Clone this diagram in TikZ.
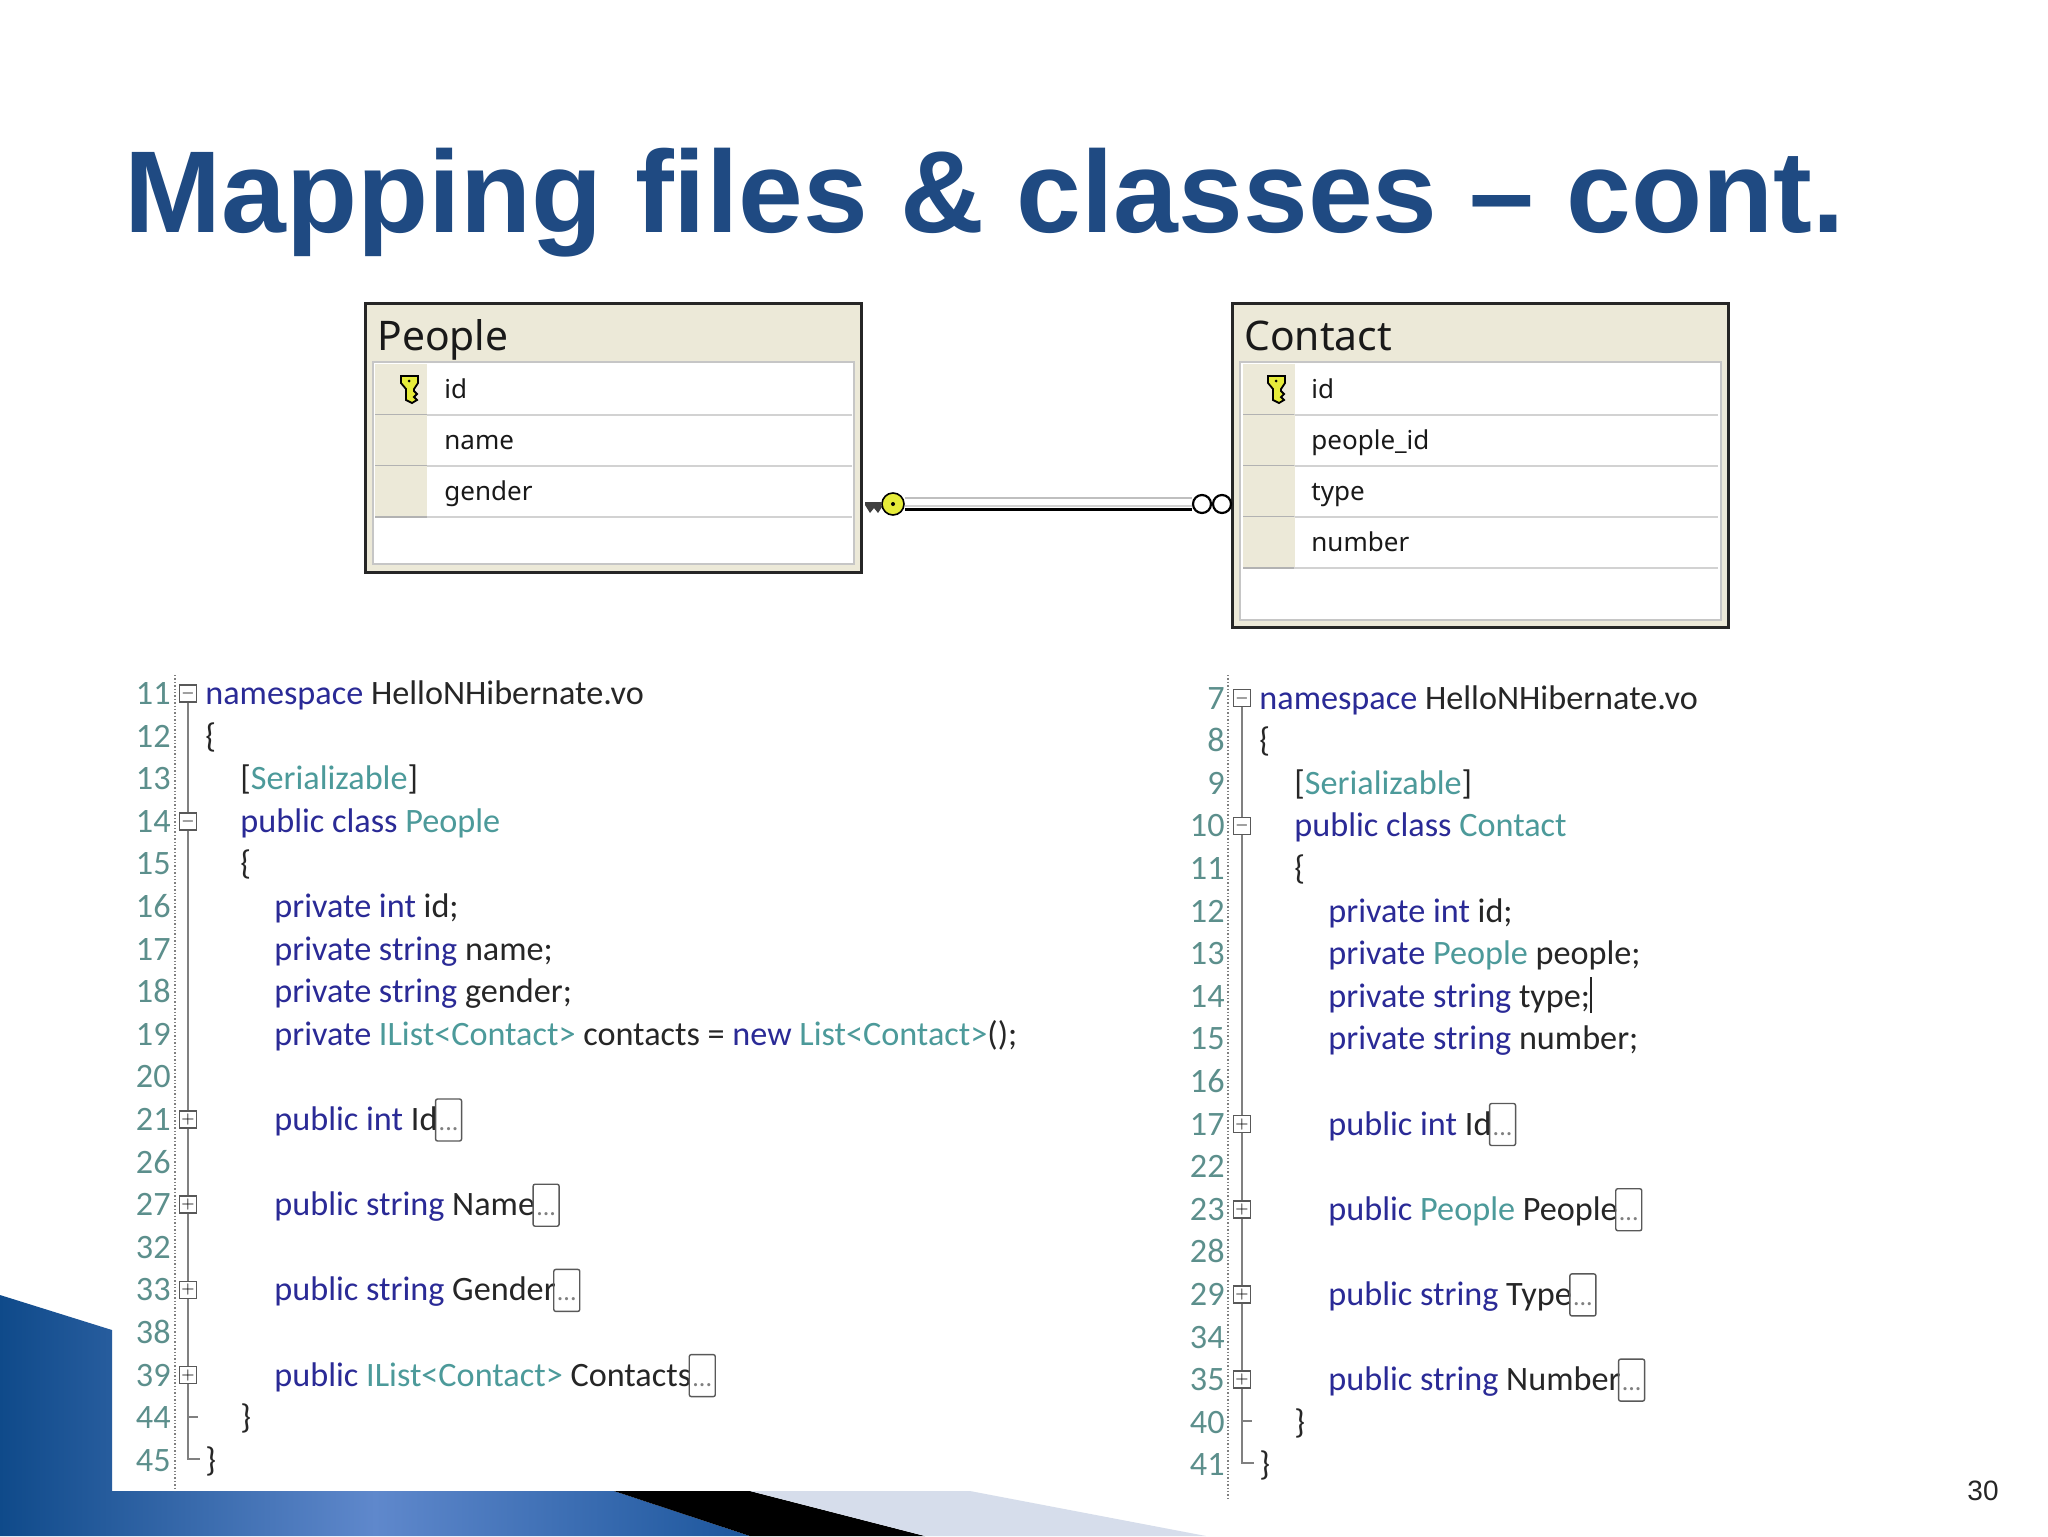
\documentclass[tikz,border=0pt]{standalone}
\usepackage{fontspec}
\setmainfont{Liberation Sans}
\newfontfamily\codefont{Carlito}
\newfontfamily\tablefont{Noto Sans}
\definecolor{titleblue}{HTML}{1F4A82}
\definecolor{kwblue}{HTML}{2A2A96}
\definecolor{tyteal}{HTML}{4C9A9A}
\definecolor{numteal}{HTML}{5C8F8C}
\definecolor{plaincode}{HTML}{262626}
\definecolor{headbeige}{HTML}{ECE9D8}
\definecolor{keyyellow}{HTML}{E6EC3A}
\definecolor{cornerdark}{HTML}{0F4A8A}
\definecolor{cornermid}{HTML}{5F88CC}
\definecolor{cornerend}{HTML}{1C569C}
\definecolor{cornerpale}{HTML}{D6DDEB}
\newcommand{\kw}[1]{\textcolor{kwblue}{#1}}
\newcommand{\ty}[1]{\textcolor{tyteal}{#1}}
\newcommand{\folded}{\smash{\raisebox{-5.25pt}{...}}}
\tikzset{
  codeline/.style={anchor=base west,inner sep=0pt,font=\codefont\fontsize{17.1}{17.1}\selectfont,text=plaincode},
  lineno/.style={anchor=base east,inner sep=0pt,font=\codefont\fontsize{17.1}{17.1}\selectfont,text=numteal},
  foldbox/.style={draw=black!65,fill=white,line width=0.8pt,minimum size=8.5pt,inner sep=0pt},
  dotsbox/.style={draw=black!65,fill=white,fill opacity=0,text opacity=1,line width=0.7pt,rounded corners=1pt,inner sep=0pt,anchor=west,
    minimum width=13pt,minimum height=21pt,font=\codefont\fontsize{13}{13}\selectfont,text=gray},
  guide/.style={draw=black!50,line width=0.8pt},
  gutter/.style={draw=black!50,line width=0.7pt,densely dotted},
  tablebox/.style={draw=black!85,fill=headbeige,line width=1.5pt,anchor=north west,inner sep=0pt,minimum width=248pt},
  tablebody/.style={draw=gray!45,fill=white,line width=1pt,anchor=north west,inner sep=0pt,minimum width=240.5pt},
  tabletitle/.style={anchor=base west,inner sep=0pt,font=\tablefont\fontsize{20.4}{20.4}\selectfont,text=black!90},
  rowtext/.style={anchor=base west,inner sep=0pt,font=\tablefont\fontsize{13}{13}\selectfont,text=black!90},
  keycol/.style={fill=headbeige,draw=none,anchor=north west,inner sep=0pt,minimum width=26pt,minimum height=25.5pt},
  keyicon/.pic={
    \fill[keyyellow,draw=black,line width=0.9pt] (-8,-12) -- (9,-12) -- (9,-5) -- (5,1) -- (5,3) -- (8,6) -- (5,9) -- (8,12) -- (3,15) -- (-3,12) -- (-3,1) -- (-8,-5) -- cycle;
    \fill[black] (0,-7) circle (1.5);
  },
  ringend/.style={circle,draw=black,fill=white,line width=1.1pt,minimum size=9pt,inner sep=0pt},
  fkhead/.style={circle,draw=black,fill=keyyellow,line width=0.8pt,minimum size=11pt,inner sep=0pt}
}
\begin{document}
\begin{tikzpicture}[x=0.5pt,y=-0.5pt]
  \useasboundingbox[fill=white] (0,0) rectangle (2048,1536);
  % slide corner
  \shade[left color=cornerdark,right color=cornerend,middle color=cornermid]
    (0,1295) -- (112,1330) -- (112,1491) -- (614,1491) -- (750,1536) -- (0,1536) -- cycle;
  \fill[black] (614,1491) -- (750,1491) -- (925,1536) -- (750,1536) -- cycle;
  \fill[cornerpale] (750,1491) -- (970,1491) -- (1206,1536) -- (925,1536) -- cycle;
  % title
  \node[anchor=base west,inner sep=0pt,font=\bfseries\fontsize{58.2}{58.2}\selectfont,text=titleblue] (title)
    at (124,232) {Mapping files \& classes -- cont.};
  \node[anchor=base east,inner sep=0pt,font=\fontsize{14}{14}\selectfont,text=black!85] (pageno) at (1999,1500) {30};
  % tables
  \node[tablebox,minimum height=134.5pt] (people) at (364,302) {};
  \node[tablebody,minimum height=101pt] (peoplebody) at (372,361) {};
  \node[tabletitle] (peopletitle) at (377,350) {People};
  \node[tablebox,minimum height=162pt] (contact) at (1231,302) {};
  \node[tablebody,minimum height=129pt] (contactbody) at (1239,361) {};
  \node[tabletitle] (contacttitle) at (1244,350) {Contact};
  \foreach \y in {364,415,466} {
    \node[keycol] (pk\y) at (375,\y) {};
    \draw[gray!35,line width=1pt] (427,\y+51) -- (852,\y+51);
    \draw[gray!60,line width=1.2pt] (375,\y+51) -- (427,\y+51);
  }
  \foreach \y in {364,415,466,517} {
    \node[keycol] (ck\y) at (1243,\y) {};
    \draw[gray!35,line width=1pt] (1294,\y+51) -- (1718,\y+51);
    \draw[gray!60,line width=1.2pt] (1243,\y+51) -- (1294,\y+51);
  }
  \path (409,388) pic {keyicon};
  \path (1276,388) pic {keyicon};
  \node[rowtext] (pid) at (444,398) {id};
  \node[rowtext] (pname) at (444,449) {name};
  \node[rowtext] (pgender) at (444,500) {gender};
  \node[rowtext] (cid) at (1311,398) {id};
  \node[rowtext] (cpeople) at (1311,449) {people\_id};
  \node[rowtext] (ctype) at (1311,500) {type};
  \node[rowtext] (cnumber) at (1311,551) {number};
  % relationship
  \node[ringend] (ringa) at (1202,504) {};
  \node[ringend] (ringb) at (1222,504) {};
  \node[fkhead] (fkkey) at (893,504) {};
  \fill[black!75] (fkkey.west) -- (882,502) -- (865,502) -- (865,505) -- (870,513) -- (874,508) -- (878,513) -- (882,507) -- (fkkey.west);
  \fill[black] (fkkey.center) circle (2);
  \draw[gray!50,line width=1.2pt] ([yshift=3pt]fkkey.east) -- ([yshift=3pt]ringa.west);
  \draw[gray!35,line width=1pt] ([yshift=-1pt]fkkey.east) -- ([yshift=-1pt]ringa.west);
  \draw[black,line width=1.5pt] ([yshift=-2.5pt]fkkey.east) -- ([yshift=-2.5pt]ringa.west);
  % left listing
  \draw[gutter] (175,675) -- (175,1491);
  \foreach \num [count=\i from 0] in {11,12,13,14,15,16,17,18,19,20,21,26,27,32,33,38,39,44,45}
    \node[lineno] (la\num) at (171,704.5+\i*42.6) {\num};
  \foreach \x/\num/\txt in {
    205/11/{\kw{namespace} HelloNHibernate.vo},
    205/12/\{,
    240/13/{[\ty{Serializable}]},
    240/14/{\kw{public class} \ty{People}},
    240/15/\{,
    274/16/{\kw{private int} id;},
    274/17/{\kw{private string} name;},
    274/18/{\kw{private string} gender;},
    274/19/{\kw{private} \ty{IList<Contact>} contacts = \kw{new} \ty{List<Contact>}();},
    274/21/{\kw{public int} Id},
    274/27/{\kw{public string} Name},
    274/33/{\kw{public string} Gender},
    274/39/{\kw{public} \ty{IList<Contact>} Contacts},
    240/44/\},
    205/45/\}}
    \node[codeline] (lc\num) at (\x,0 |- la\num.base) {\txt};
  \foreach \num in {21,27,33,39}
    \node[dotsbox] (ld\num) at ([xshift=-1.5pt,yshift=5.25pt]lc\num.base east) {\folded};
  \draw[guide] (188,702) -- (188,1459) -- (200,1459);
  \draw[guide] (188,1417) -- (198,1417);
  \foreach \num/\sym in {11/-,14/-,21/+,27/+,33/+,39/+}
    \node[foldbox] (lf\num) at ([yshift=5.5pt]188,0 |- lc\num.base) {\fontsize{8}{8}\selectfont$\sym$};
  % right listing
  \draw[gutter] (1228,675) -- (1228,1499);
  \foreach \num [count=\i from 0] in {7,8,9,10,11,12,13,14,15,16,17,22,23,28,29,34,35,40,41}
    \node[lineno] (ra\num) at (1225,709+\i*42.6) {\num};
  \foreach \x/\num/\txt in {
    1259/7/{\kw{namespace} HelloNHibernate.vo},
    1259/8/\{,
    1294/9/{[\ty{Serializable}]},
    1294/10/{\kw{public class} \ty{Contact}},
    1294/11/\{,
    1328/12/{\kw{private int} id;},
    1328/13/{\kw{private} \ty{People} people;},
    1328/14/{\kw{private string} type;\rule[-3pt]{0.8pt}{18pt}},
    1328/15/{\kw{private string} number;},
    1328/17/{\kw{public int} Id},
    1328/23/{\kw{public} \ty{People} People},
    1328/29/{\kw{public string} Type},
    1328/35/{\kw{public string} Number},
    1294/40/\},
    1259/41/\}}
    \node[codeline] (rc\num) at (\x,0 |- ra\num.base) {\txt};
  \foreach \num in {17,23,29,35}
    \node[dotsbox] (rd\num) at ([xshift=-1.5pt,yshift=5.25pt]rc\num.base east) {\folded};
  \draw[guide] (1242,706) -- (1242,1463) -- (1254,1463);
  \draw[guide] (1242,1421) -- (1252,1421);
  \foreach \num/\sym in {7/-,10/-,17/+,23/+,29/+,35/+}
    \node[foldbox] (rf\num) at ([yshift=5.5pt]1242,0 |- rc\num.base) {\fontsize{8}{8}\selectfont$\sym$};
\end{tikzpicture}
\end{document}
